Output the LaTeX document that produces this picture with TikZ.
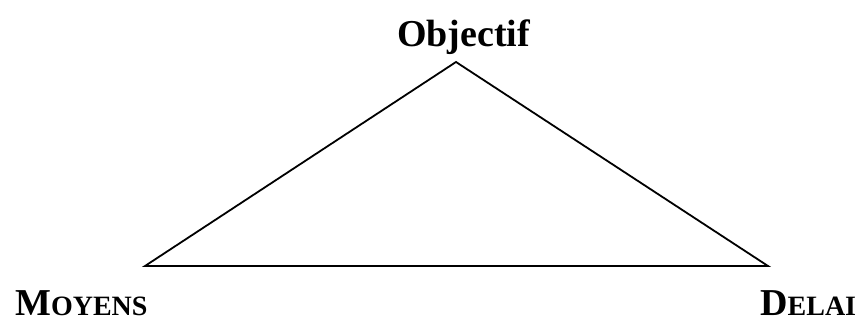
\documentclass[tikz,border=0pt]{standalone}
\usepackage{fontspec}
\setmainfont{Liberation Serif}

\newcommand{\grand}[1]{{\fontsize{38}{40}\selectfont #1}}
\newcommand{\petit}[1]{{\fontsize{28}{30}\selectfont #1}}

\tikzset{
  sommet/.style={anchor=base west, inner sep=0pt, font=\bfseries}
}

\begin{document}
\begin{tikzpicture}[x=1pt, y=1pt]
  \useasboundingbox (0,0) rectangle (862,321);

  \coordinate (haut) at (456,259);
  \coordinate (gauche) at (145,55);
  \coordinate (droite) at (768,55);

  \draw[line width=1.8pt, line join=miter] (haut) -- (gauche) -- (droite) -- cycle;

  \node[sommet] (objectif) at (397,274) {\grand{Objectif}};
  \node[sommet] (moyens) at (15,5) {\grand{M}\petit{OYENS}};
  \node[sommet] (delai) at (760,5) {\grand{D}\petit{ELAI}};
\end{tikzpicture}
\end{document}
